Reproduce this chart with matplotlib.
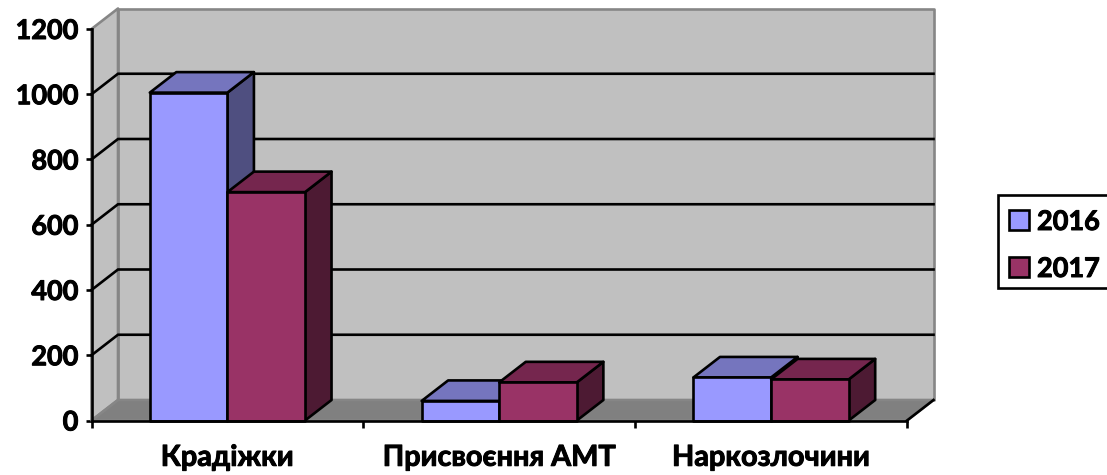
import matplotlib
matplotlib.use("Agg")
import matplotlib.pyplot as plt
from matplotlib.patches import Polygon, Rectangle
import matplotlib.patheffects as pe

categories = ["Крадіжки", "Присвоєння АМТ", "Наркозлочини"]
series_names = ["2016", "2017"]
values_2016 = [1005, 60, 132]
values_2017 = [700, 117, 126]
y_ticks = [0, 200, 400, 600, 800, 1000, 1200]

W, H = 1107, 475
AX_L, AX_R, AX_T, AX_B = 91.5, 907.0, 29.0, 420.5
DEPTH_X_PX, DEPTH_Y_PX = 26.5, 20.5
BAR_W = 0.2855
LW = 1.9

plt.rcParams["font.family"] = ["Lato", "Noto Sans", "DejaVu Sans"]
plt.rcParams["font.weight"] = "bold"
HEAVY = [pe.withStroke(linewidth=0.7, foreground="black")]

fig = plt.figure(figsize=(W / 100, H / 100), dpi=100)
ax = fig.add_axes([AX_L / W, 1 - AX_B / H, (AX_R - AX_L) / W, (AX_B - AX_T) / H])
ax.set_xlim(0, 3)
ax.set_ylim(0, 1200)

dx = DEPTH_X_PX / (AX_R - AX_L) * 3
dy = DEPTH_Y_PX / (AX_B - AX_T) * 1200


def poly(pts, fc, ec, z, lw=LW):
    ax.add_patch(Polygon(pts, closed=True, facecolor=fc, edgecolor=ec, lw=lw,
                         joinstyle="round", clip_on=False, zorder=z))


WALL, FLOOR, BORDER = "#C0C0C0", "#808080", "#868686"
# back wall, side wall, floor
poly([(dx, dy), (3 + dx, dy), (3 + dx, 1200 + dy), (dx, 1200 + dy)], WALL, BORDER, 1)
poly([(0, 0), (dx, dy), (dx, 1200 + dy), (0, 1200)], WALL, BORDER, 1)
poly([(0, 0), (3, 0), (3 + dx, dy), (dx, dy)], FLOOR, BORDER, 2)
ax.plot([3, 3 + dx], [0, dy], color="black", lw=LW, clip_on=False, zorder=2.5)

# gridlines on side and back walls
for v in y_ticks[1:-1]:
    ax.plot([0, dx, 3 + dx], [v, v + dy, v + dy], color="black", lw=LW,
            clip_on=False, zorder=2.2, solid_joinstyle="miter")


def bar3d(x0, x1, h, front, top, side, z):
    poly([(x1, 0), (x1 + dx, dy), (x1 + dx, h + dy), (x1, h)], side, "black", z)
    poly([(x0, h), (x1, h), (x1 + dx, h + dy), (x0 + dx, h + dy)], top, "black", z)
    poly([(x0, 0), (x1, 0), (x1, h), (x0, h)], front, "black", z + 0.1)


STYLE = [("#9999FF", "#7575BE", "#4F4F80"), ("#993366", "#75264E", "#4D1A33")]
for i in range(len(categories)):
    c = i + 0.5
    bar3d(c - BAR_W, c, values_2016[i], *STYLE[0], 3 + i)
    bar3d(c, c + BAR_W, values_2017[i], *STYLE[1], 3.5 + i)

ax.set_facecolor("none")
for s in ("top", "right"):
    ax.spines[s].set_visible(False)
for s in ("left", "bottom"):
    ax.spines[s].set_linewidth(LW)
    ax.spines[s].set_zorder(10)

ax.set_yticks(y_ticks)
ylabels = ax.set_yticklabels([str(v) for v in y_ticks], fontsize=19.5, fontweight="bold")
ax.tick_params(axis="y", length=4.5, width=LW, pad=5)
ax.set_xticks([0, 1, 2, 3])
ax.set_xticklabels([])
ax.tick_params(axis="x", which="major", length=5, width=LW)
ax.set_xticks([0.5, 1.5, 2.5], minor=True)
xlabels = ax.set_xticklabels(categories, minor=True, fontsize=20.8, fontweight="bold")
ax.tick_params(axis="x", which="minor", length=0, pad=17.5)
for t in list(ylabels) + list(xlabels):
    t.set_path_effects(HEAVY)


# legend, its box running off the right edge of the picture
def fx(px):
    return px / W


def fy(px):
    return 1 - px / H


fig.add_artist(Rectangle((fx(998), fy(288)), (W + 10 - 998) / W, 93 / H,
                         transform=fig.transFigure, facecolor="white",
                         edgecolor="black", lw=LW))
for name, col, yc in zip(series_names, ("#9999FF", "#993366"), (220, 267)):
    fig.add_artist(Rectangle((fx(1009), fy(yc + 10)), 20 / W, 20 / H,
                             transform=fig.transFigure, facecolor=col,
                             edgecolor="black", lw=LW))
    fig.text(fx(1037), fy(yc + 2), name, fontsize=19.5, fontweight="bold",
             ha="left", va="center", path_effects=HEAVY)

fig.savefig("out.png", dpi=100)
